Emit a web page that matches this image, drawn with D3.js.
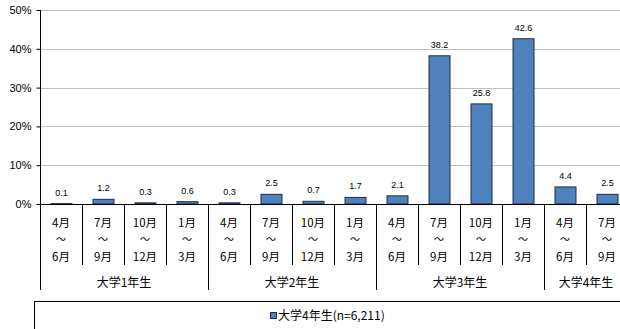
<!DOCTYPE html>
<html>
<head>
<meta charset="utf-8">
<script src="https://cdn.jsdelivr.net/npm/d3@7"></script>
<style>
  body { margin: 0; background: #fff; }
  svg { display: block; }
</style>
</head>
<body>
<div class="chart"></div>
<script>
// chart data
var startMonths = ["4月", "7月", "10月", "1月"];
var endMonths = ["6月", "9月", "12月", "3月"];
var groups = ["大学1年生", "大学2年生", "大学3年生", "大学4年生"];
var values = [0.1, 1.2, 0.3, 0.6, 0.3, 2.5, 0.7, 1.7, 2.1, 38.2, 25.8, 42.6, 4.4, 2.5];
var yTicks = [0, 10, 20, 30, 40, 50];
var legendLabel = "大学4年生(n=6,211)";

var svgWidth = 620, svgHeight = 329;
var jpFont = "'Noto Sans CJK JP', sans-serif";

var svg = d3.select(".chart").append("svg")
  .attr("width", svgWidth)
  .attr("height", svgHeight);

var x = d3.scaleBand()
  .domain(d3.range(values.length))
  .range([40, 628])
  .paddingInner(0.5)
  .paddingOuter(0.25);

var y = d3.scaleLinear()
  .domain([0, 50])
  .range([204, 10]);

var step = x.step();
var slotLeft = i => 40 + i * step;

// gridlines
svg.append("g")
  .selectAll("line")
  .data(yTicks.filter(d => d > 0))
  .enter().append("line")
  .attr("x1", 40).attr("x2", svgWidth)
  .attr("y1", d => Math.round(y(d)) + 0.5)
  .attr("y2", d => Math.round(y(d)) + 0.5)
  .attr("stroke", "#c0c0c0");

// y axis
var leftAxis = d3.axisLeft(y)
  .tickValues(yTicks)
  .tickFormat(d => d + "%")
  .tickSize(4)
  .tickPadding(5);

var yAxis = svg.append("g")
  .attr("transform", "translate(40.5,0)")
  .call(leftAxis);
yAxis.select(".domain").remove();
yAxis.selectAll("text")
  .attr("font-family", "Arial, 'Liberation Sans', sans-serif")
  .attr("font-size", 11)
  .attr("fill", "#000");

// bars
svg.append("g")
  .selectAll("rect")
  .data(values)
  .enter().append("rect")
  .attr("x", (d, i) => x(i) + 0.5)
  .attr("y", d => y(d))
  .attr("width", x.bandwidth())
  .attr("height", d => y(0) - y(d))
  .attr("fill", "#4f81bd")
  .attr("stroke", "#1d2f48")
  .attr("stroke-width", 1);

// value labels
svg.append("g")
  .selectAll("text")
  .data(values)
  .enter().append("text")
  .attr("x", (d, i) => x(i) + x.bandwidth() / 2 + 0.5)
  .attr("y", d => y(d) - 8)
  .attr("text-anchor", "middle")
  .attr("font-family", "Arial, 'Liberation Sans', sans-serif")
  .attr("font-size", 9)
  .attr("fill", "#000")
  .text(d => d.toFixed(1));

// axis lines
svg.append("line")
  .attr("x1", 40).attr("x2", svgWidth)
  .attr("y1", 204.5).attr("y2", 204.5)
  .attr("stroke", "#000");
svg.append("line")
  .attr("x1", 40.5).attr("x2", 40.5)
  .attr("y1", 10).attr("y2", 290)
  .attr("stroke", "#000");

// slot separators below axis
var seps = d3.range(1, values.length + 1);
svg.append("g")
  .selectAll("line")
  .data(seps)
  .enter().append("line")
  .attr("x1", d => Math.round(slotLeft(d)) + 0.5)
  .attr("x2", d => Math.round(slotLeft(d)) + 0.5)
  .attr("y1", 204)
  .attr("y2", d => d % 4 === 0 ? 290 : 265)
  .attr("stroke", "#000");

// month labels
var cat = svg.append("g")
  .attr("font-family", jpFont)
  .attr("fill", "#000")
  .attr("text-anchor", "middle");

values.forEach(function(v, i) {
  var cx = slotLeft(i) + step / 2;
  var k = i % 4;
  cat.append("text").attr("x", cx).attr("y", 227).attr("font-size", 11.5).text(startMonths[k]);
  cat.append("text").attr("x", cx).attr("y", 243).attr("font-size", 10).text("～");
  cat.append("text").attr("x", cx).attr("y", 261).attr("font-size", 11.5).text(endMonths[k]);
});

// group labels
groups.forEach(function(g, j) {
  var left = slotLeft(j * 4);
  var right = Math.min(slotLeft(j * 4 + 4), 628);
  cat.append("text")
    .attr("x", (left + right) / 2)
    .attr("y", 287)
    .attr("font-size", 12)
    .text(g);
});

// legend box
svg.append("rect")
  .attr("x", 34.5).attr("y", 301.5)
  .attr("width", 620).attr("height", 60)
  .attr("fill", "none")
  .attr("stroke", "#000");

var legend = svg.append("g");
legend.append("rect")
  .attr("x", 270.5).attr("y", 312.5)
  .attr("width", 6).attr("height", 6)
  .attr("fill", "#4f81bd")
  .attr("stroke", "#1d2f48");
legend.append("text")
  .attr("x", 278)
  .attr("y", 320)
  .attr("font-family", jpFont)
  .attr("font-size", 12)
  .attr("fill", "#000")
  .text(legendLabel);
</script>
</body>
</html>
